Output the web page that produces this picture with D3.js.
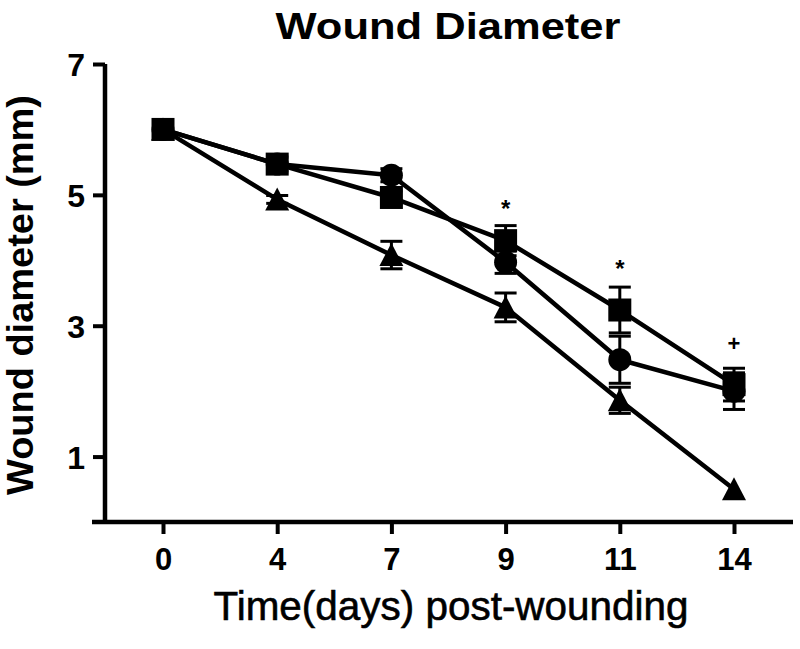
<!DOCTYPE html>
<html><head><meta charset="utf-8">
<script src="https://cdn.jsdelivr.net/npm/d3@7/dist/d3.min.js"></script>
<style>body{margin:0;background:#fff}svg{display:block}text{font-family:"Liberation Sans",Arial,sans-serif}</style>
</head><body>
<script>
const days = ["0","4","7","9","11","14"];
const squareMean = [6.0, 5.47, 4.96, 4.30, 3.24, 2.10];
const squareErr  = [0, 0.12, 0.10, 0.23, 0.35, 0.25];
const circleMean = [6.0, 5.47, 5.30, 3.97, 2.48, 2.00];
const circleErr  = [0, 0.10, 0.10, 0.17, 0.36, 0.28];
const triangleMean = [6.0, 4.93, 4.08, 3.28, 1.86, 0.50];
const triangleErr  = [0, 0.06, 0.21, 0.22, 0.20, 0];
const sigLabels = ["", "", "", "*", "*", "+"];
const sigValues = [null, null, null, 4.92, 4.0, 2.73];
const yTicks = [1, 3, 5, 7];

const W = 800, H = 649;
const svg = d3.select("body").append("svg").attr("width", W).attr("height", H);
const x = d3.scalePoint().domain(days).range([163, 734]);
const y = d3.scaleLinear().domain([0, 7]).range([522, 64]);

const series = [
  {shape: "triangle", mean: triangleMean, err: triangleErr},
  {shape: "circle", mean: circleMean, err: circleErr},
  {shape: "square", mean: squareMean, err: squareErr}
];

// axes
const yAxis = svg.append("g").attr("transform", "translate(105,0)")
  .call(d3.axisLeft(y).tickValues(yTicks).tickSize(12).tickPadding(8).tickFormat(d3.format("d")));
yAxis.select(".domain").attr("d", `M0,${y(7)}V${y(0)}`);
const xAxis = svg.append("g").attr("transform", `translate(0,${y(0)})`)
  .call(d3.axisBottom(x).tickSize(12).tickPadding(14));
xAxis.select(".domain").attr("d", "M92,0H793");
svg.selectAll(".domain").attr("stroke", "#000").attr("stroke-width", 4.5);
svg.selectAll(".tick line").attr("stroke", "#000").attr("stroke-width", 4);
yAxis.selectAll(".tick text").attr("font-size", 32).attr("font-weight", "bold").attr("fill", "#000").attr("dy", "0.36em");
xAxis.selectAll(".tick text").attr("font-size", 31).attr("font-weight", "bold").attr("fill", "#000");

const plot = svg.append("g");
const line = d3.line().x((d, i) => x(days[i])).y(d => y(d));

series.forEach(s => {
  plot.append("path").datum(s.mean).attr("d", line)
    .attr("fill", "none").attr("stroke", "#000").attr("stroke-width", 4.5).attr("stroke-linejoin", "round");
});

series.forEach(s => {
  const g = plot.append("g");
  s.mean.forEach((m, i) => {
    if (!s.err[i]) return;
    const cx = x(days[i]);
    const hi = y(m + s.err[i]), lo = y(m - s.err[i]);
    g.append("line").attr("x1", cx).attr("x2", cx).attr("y1", hi).attr("y2", lo).attr("stroke", "#000").attr("stroke-width", 3);
    [hi, lo].forEach(yy => g.append("line").attr("x1", cx - 11).attr("x2", cx + 11).attr("y1", yy).attr("y2", yy)
      .attr("stroke", "#000").attr("stroke-width", 3));
  });
});

series.forEach(s => {
  s.mean.forEach((m, i) => {
    const cx = x(days[i]), cy = y(m);
    if (s.shape === "square") {
      plot.append("rect").attr("x", cx - 11.5).attr("y", cy - 11.5).attr("width", 23).attr("height", 23).attr("fill", "#000");
    } else if (s.shape === "circle") {
      plot.append("circle").attr("cx", cx).attr("cy", cy).attr("r", 11.5).attr("fill", "#000");
    } else {
      plot.append("path").attr("d", `M${cx},${cy - 12}L${cx + 12},${cy + 11}L${cx - 12},${cy + 11}Z`).attr("fill", "#000");
    }
  });
});

sigLabels.forEach((lab, i) => {
  if (!lab) return;
  svg.append("text").attr("x", x(days[i])).attr("y", y(sigValues[i])).attr("dy", lab === "*" ? "0.7em" : "0.36em")
    .attr("text-anchor", "middle").attr("font-size", lab === "*" ? 24 : 22).attr("font-weight", "bold").text(lab);
});

svg.append("text").attr("x", 448).attr("y", 39).attr("text-anchor", "middle")
  .attr("font-size", 36).attr("font-weight", "bold").attr("textLength", 345).attr("lengthAdjust", "spacingAndGlyphs")
  .text("Wound Diameter");
svg.append("text").attr("transform", "translate(33,295) rotate(-90)").attr("text-anchor", "middle")
  .attr("font-size", 36).attr("font-weight", "bold").attr("textLength", 400).attr("lengthAdjust", "spacingAndGlyphs")
  .text("Wound diameter (mm)");
svg.append("text").attr("x", 451).attr("y", 620).attr("text-anchor", "middle")
  .attr("font-size", 40).attr("textLength", 475).attr("lengthAdjust", "spacingAndGlyphs")
  .attr("stroke", "#000").attr("stroke-width", 0.6)
  .text("Time(days) post-wounding");
</script>
</body></html>
